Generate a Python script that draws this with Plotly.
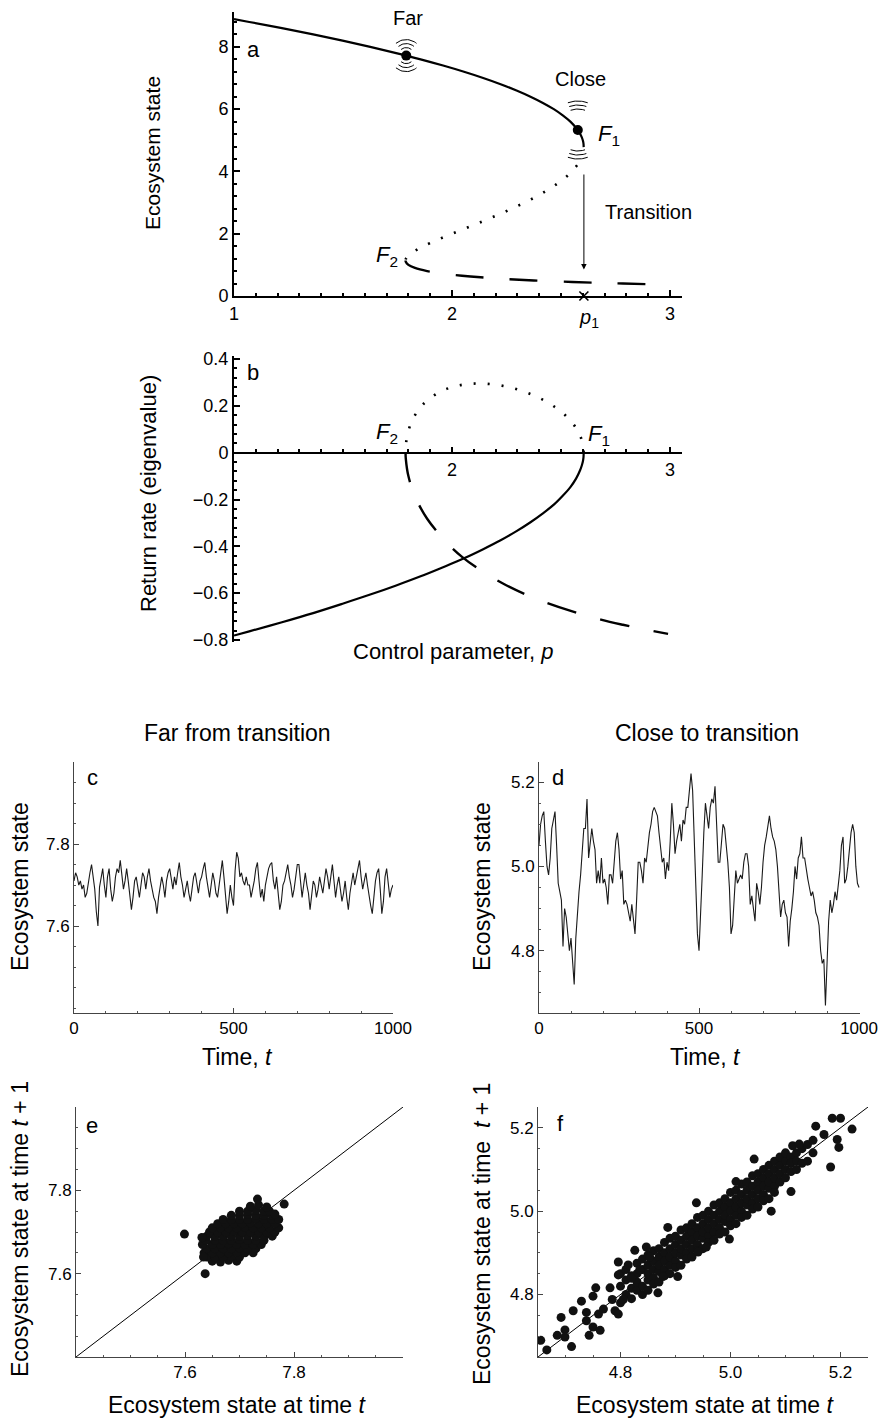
import numpy as np
import plotly.graph_objects as go

W, H = 886, 1419
FONT = "Liberation Sans, Arial, Helvetica, sans-serif"

p_upper = [1.000, 1.070, 1.220, 1.363, 1.498, 1.625, 1.744, 1.856, 1.959, 2.055, 2.143, 2.223,
           2.296, 2.360, 2.417, 2.467, 2.508, 2.543, 2.569, 2.588, 2.595, 2.600, 2.603, 2.604]
x_upper = [8.889, 8.80, 8.60, 8.40, 8.20, 8.00, 7.80, 7.60, 7.40, 7.20, 7.00, 6.80,
           6.60, 6.40, 6.20, 6.00, 5.80, 5.60, 5.40, 5.20, 5.10, 5.00, 4.90, 4.78]
lam_upper = [-0.781, -0.763, -0.724, -0.685, -0.645, -0.606, -0.567, -0.528, -0.489, -0.451, -0.412, -0.374,
             -0.335, -0.297, -0.259, -0.222, -0.184, -0.147, -0.111, -0.074, -0.056, -0.039, -0.021, 0.000]
p_mid = [2.604, 2.601, 2.591, 2.574, 2.550, 2.519, 2.482, 2.438, 2.389, 2.333, 2.273, 2.209,
         2.141, 2.071, 2.000, 1.932, 1.869, 1.842, 1.818, 1.800, 1.789, 1.787]
x_mid = [4.78, 4.60, 4.40, 4.20, 4.00, 3.80, 3.60, 3.40, 3.20, 3.00, 2.80, 2.60,
         2.40, 2.20, 2.00, 1.80, 1.60, 1.50, 1.40, 1.30, 1.20, 1.137]
lam_mid = [0.000, 0.031, 0.065, 0.098, 0.129, 0.160, 0.188, 0.215, 0.239, 0.260, 0.277, 0.289,
           0.295, 0.293, 0.280, 0.253, 0.208, 0.177, 0.139, 0.093, 0.039, 0.000]
p_low = [1.787, 1.788, 1.800, 1.830, 1.886, 1.980, 2.046, 2.131, 2.238, 2.375, 2.552, 2.683, 2.784, 2.897, 2.991]
x_low = [1.137, 1.10, 1.00, 0.90, 0.80, 0.70, 0.65, 0.60, 0.55, 0.50, 0.45, 0.42, 0.40, 0.38, 0.365]
lam_low = [0.000, -0.025, -0.100, -0.186, -0.282, -0.388, -0.445, -0.502, -0.561, -0.620, -0.678,
           -0.713, -0.735, -0.757, -0.774]

far_point = [1.79, 7.72]
close_point = [2.577, 5.33]
p1_value = 2.605
transition_arrow = [3.95, 0.85]

# ---------------- data: time series (panels c, d) ----------------
far_series = [
    7.71, 7.73, 7.72, 7.70, 7.71, 7.69, 7.70, 7.67, 7.68, 7.71,
    7.73, 7.75, 7.72, 7.69, 7.635, 7.60, 7.695, 7.72, 7.74, 7.70,
    7.67, 7.72, 7.74, 7.69, 7.66, 7.68, 7.72, 7.74, 7.73, 7.76,
    7.72, 7.69, 7.71, 7.74, 7.71, 7.68, 7.64, 7.67, 7.71, 7.72,
    7.69, 7.67, 7.70, 7.73, 7.72, 7.69, 7.72, 7.74, 7.71, 7.69,
    7.67, 7.66, 7.63, 7.67, 7.70, 7.72, 7.70, 7.67, 7.71, 7.73,
    7.74, 7.71, 7.69, 7.72, 7.70, 7.73, 7.755, 7.72, 7.70, 7.67,
    7.69, 7.71, 7.68, 7.66, 7.69, 7.72, 7.73, 7.70, 7.68, 7.71,
    7.72, 7.74, 7.755, 7.72, 7.69, 7.67, 7.70, 7.73, 7.71, 7.68,
    7.67, 7.70, 7.73, 7.76, 7.72, 7.68, 7.63, 7.66, 7.70, 7.67,
    7.65, 7.735, 7.78, 7.765, 7.72, 7.73, 7.71, 7.70, 7.72, 7.70,
    7.70, 7.67, 7.69, 7.71, 7.74, 7.755, 7.71, 7.67, 7.69, 7.66,
    7.70, 7.72, 7.74, 7.75, 7.755, 7.71, 7.69, 7.72, 7.68, 7.64,
    7.66, 7.70, 7.71, 7.73, 7.75, 7.72, 7.70, 7.67, 7.69, 7.72,
    7.75, 7.75, 7.71, 7.67, 7.70, 7.73, 7.70, 7.68, 7.64, 7.67,
    7.71, 7.70, 7.67, 7.69, 7.72, 7.70, 7.68, 7.71, 7.74, 7.72,
    7.69, 7.72, 7.75, 7.71, 7.67, 7.70, 7.72, 7.69, 7.66, 7.68,
    7.71, 7.67, 7.64, 7.68, 7.71, 7.73, 7.70, 7.72, 7.74, 7.76,
    7.72, 7.69, 7.71, 7.73, 7.70, 7.67, 7.65, 7.63, 7.67, 7.71,
    7.73, 7.74, 7.69, 7.63, 7.66, 7.72, 7.74, 7.71, 7.67, 7.69,
    7.70]

close_series = [
    5.05, 5.10, 5.12, 5.13, 5.06, 5.00, 4.98, 5.02, 5.09, 5.11,
    5.13, 5.05, 4.96, 4.94, 4.92, 4.81, 4.90, 4.88, 4.84, 4.80,
    4.83, 4.77, 4.72, 4.83, 4.90, 4.94, 4.98, 5.03, 5.09, 5.09,
    5.16, 5.02, 5.05, 5.09, 5.06, 5.04, 4.96, 4.99, 4.96, 5.02,
    4.96, 4.97, 4.95, 4.91, 4.98, 4.98, 4.96, 5.02, 5.06, 5.08,
    5.04, 4.97, 4.99, 4.91, 4.92, 4.91, 4.89, 4.87, 4.91, 4.87,
    4.84, 4.92, 5.01, 5.01, 4.99, 4.96, 5.02, 5.01, 5.05, 5.08,
    5.10, 5.13, 5.14, 5.13, 5.12, 5.08, 5.04, 5.01, 5.02, 4.97,
    5.01, 4.99, 5.06, 5.15, 5.10, 5.03, 5.06, 5.08, 5.10, 5.06,
    5.11, 5.10, 5.14, 5.14, 5.19, 5.22, 5.18, 5.05, 4.92, 4.84,
    4.80, 4.88, 4.98, 5.08, 5.15, 5.12, 5.09, 5.14, 5.16, 5.15,
    5.19, 5.10, 5.01, 5.01, 5.06, 5.10, 5.09, 5.05, 5.01, 4.95,
    4.84, 4.86, 4.94, 4.99, 4.96, 4.97, 4.98, 4.97, 5.01, 5.03,
    5.03, 5.00, 4.91, 4.93, 4.90, 4.87, 4.96, 4.94, 4.91, 4.95,
    5.01, 5.05, 5.07, 5.10, 5.12, 5.09, 5.07, 5.06, 5.04, 5.00,
    4.93, 4.88, 4.91, 4.92, 4.89, 4.88, 4.81, 4.87, 4.90, 4.94,
    5.00, 4.97, 5.02, 5.03, 5.07, 5.02, 5.02, 4.99, 4.97, 4.95,
    4.93, 4.94, 4.92, 4.89, 4.88, 4.86, 4.80, 4.77, 4.78, 4.67,
    4.77, 4.87, 4.92, 4.89, 4.91, 4.94, 4.92, 4.95, 4.99, 5.05,
    5.07, 4.96, 4.97, 5.00, 5.05, 5.08, 5.10, 5.08, 5.00, 4.96,
    4.95]

time_span = [0, 1000]

far_lag_x = [
    7.65, 7.665, 7.68, 7.695,
    7.64, 7.655, 7.67, 7.685, 7.70,
    7.635, 7.65, 7.665, 7.68, 7.695, 7.71, 7.725,
    7.64, 7.655, 7.67, 7.685, 7.70, 7.715, 7.73,
    7.632, 7.65, 7.665, 7.68, 7.695, 7.71, 7.725, 7.74,
    7.638, 7.655, 7.67, 7.685, 7.70, 7.715, 7.73, 7.745,
    7.64, 7.655, 7.67, 7.685, 7.70, 7.715, 7.73, 7.745, 7.76,
    7.645, 7.66, 7.675, 7.69, 7.705, 7.72, 7.735, 7.75, 7.765,
    7.65, 7.665, 7.68, 7.695, 7.71, 7.725, 7.74, 7.755, 7.772,
    7.66, 7.675, 7.69, 7.705, 7.72, 7.735, 7.75, 7.765,
    7.67, 7.685, 7.70, 7.715, 7.73, 7.745, 7.76, 7.772,
    7.685, 7.70, 7.715, 7.73, 7.745, 7.76,
    7.70, 7.715, 7.73, 7.745, 7.755,
    7.72, 7.735, 7.75,
    7.599, 7.637, 7.634, 7.631, 7.733, 7.782, 7.765]
far_lag_y = [
    7.63, 7.628, 7.632, 7.63,
    7.64, 7.64, 7.64, 7.642, 7.64,
    7.65, 7.65, 7.65, 7.65, 7.652, 7.65, 7.65,
    7.66, 7.66, 7.66, 7.66, 7.662, 7.66, 7.66,
    7.67, 7.67, 7.67, 7.672, 7.67, 7.67, 7.67, 7.67,
    7.68, 7.68, 7.68, 7.68, 7.682, 7.68, 7.68, 7.68,
    7.69, 7.69, 7.69, 7.69, 7.69, 7.692, 7.69, 7.69, 7.69,
    7.70, 7.70, 7.70, 7.702, 7.70, 7.70, 7.70, 7.70, 7.70,
    7.71, 7.71, 7.71, 7.71, 7.712, 7.71, 7.71, 7.71, 7.71,
    7.72, 7.72, 7.72, 7.72, 7.722, 7.72, 7.72, 7.72,
    7.73, 7.73, 7.73, 7.73, 7.732, 7.73, 7.73, 7.73,
    7.74, 7.74, 7.742, 7.74, 7.74, 7.74,
    7.75, 7.75, 7.752, 7.75, 7.75,
    7.762, 7.765, 7.76,
    7.695, 7.600, 7.640, 7.687, 7.779, 7.767, 7.743]

close_lag_x = [
    4.80, 4.80, 4.80, 4.81, 4.81, 4.81, 4.82, 4.82, 4.82,
    4.83, 4.83, 4.83, 4.83, 4.84, 4.84, 4.84, 4.84,
    4.85, 4.85, 4.85, 4.85, 4.85, 4.86, 4.86, 4.86, 4.86, 4.86,
    4.87, 4.87, 4.87, 4.87, 4.87, 4.88, 4.88, 4.88, 4.88, 4.88,
    4.89, 4.89, 4.89, 4.89, 4.89, 4.90, 4.90, 4.90, 4.90, 4.90,
    4.91, 4.91, 4.91, 4.91, 4.91, 4.92, 4.92, 4.92, 4.92, 4.92,
    4.93, 4.93, 4.93, 4.93, 4.93, 4.94, 4.94, 4.94, 4.94, 4.94,
    4.95, 4.95, 4.95, 4.95, 4.95, 4.96, 4.96, 4.96, 4.96, 4.96,
    4.97, 4.97, 4.97, 4.97, 4.97, 4.98, 4.98, 4.98, 4.98, 4.98,
    4.99, 4.99, 4.99, 4.99, 4.99, 5.00, 5.00, 5.00, 5.00, 5.00,
    5.01, 5.01, 5.01, 5.01, 5.01, 5.02, 5.02, 5.02, 5.02, 5.02,
    5.03, 5.03, 5.03, 5.03, 5.03, 5.04, 5.04, 5.04, 5.04, 5.04,
    5.05, 5.05, 5.05, 5.05, 5.05, 5.06, 5.06, 5.06, 5.06, 5.06,
    5.07, 5.07, 5.07, 5.07, 5.07, 5.08, 5.08, 5.08, 5.08, 5.08,
    5.09, 5.09, 5.09, 5.09, 5.10, 5.10, 5.10, 5.10,
    5.11, 5.11, 5.11, 5.12, 5.12, 5.12, 5.13, 5.13, 5.14, 5.14, 5.15, 5.15,
    4.655, 4.666, 4.685, 4.692, 4.699, 4.699, 4.711, 4.714, 4.729, 4.738, 4.738, 4.743,
    4.750, 4.750, 4.755, 4.760, 4.763, 4.769, 4.781, 4.785, 4.790, 4.796, 4.796, 4.796,
    4.805, 4.814, 4.820, 4.826, 4.835, 4.847, 4.853, 4.868, 4.877, 4.886, 4.904, 4.938,
    4.941, 4.956, 4.998, 5.010, 5.043, 5.074, 5.110, 5.113, 5.125, 5.155, 5.182, 5.185,
    5.200, 5.194, 5.197, 5.221, 5.170]
close_lag_y = [
    4.78, 4.82, 4.85, 4.80, 4.835, 4.86, 4.79, 4.845, 4.815,
    4.81, 4.85, 4.875, 4.83, 4.82, 4.86, 4.80, 4.885,
    4.835, 4.87, 4.85, 4.895, 4.81, 4.84, 4.88, 4.86, 4.905, 4.825,
    4.855, 4.89, 4.87, 4.91, 4.83, 4.86, 4.90, 4.88, 4.925, 4.845,
    4.87, 4.91, 4.89, 4.935, 4.85, 4.88, 4.92, 4.90, 4.94, 4.865,
    4.895, 4.93, 4.91, 4.955, 4.87, 4.90, 4.94, 4.92, 4.96, 4.885,
    4.91, 4.95, 4.93, 4.97, 4.89, 4.92, 4.96, 4.94, 4.985, 4.905,
    4.935, 4.97, 4.95, 4.99, 4.91, 4.94, 4.98, 4.96, 5.00, 4.925,
    4.95, 4.99, 4.97, 5.015, 4.93, 4.96, 5.00, 4.98, 5.02, 4.945,
    4.975, 5.01, 4.99, 5.03, 4.95, 4.98, 5.02, 5.00, 5.045, 4.965,
    4.99, 5.03, 5.01, 5.05, 4.97, 5.00, 5.04, 5.02, 5.065, 4.985,
    5.015, 5.05, 5.03, 5.07, 4.99, 5.02, 5.06, 5.04, 5.085, 5.005,
    5.03, 5.07, 5.05, 5.09, 5.01, 5.04, 5.08, 5.06, 5.10, 5.025,
    5.055, 5.09, 5.07, 5.11, 5.03, 5.06, 5.10, 5.08, 5.12, 5.045,
    5.07, 5.11, 5.09, 5.13, 5.08, 5.12, 5.10, 5.14,
    5.095, 5.13, 5.115, 5.10, 5.14, 5.12, 5.115, 5.15, 5.12, 5.16, 5.14, 5.17,
    4.690, 4.667, 4.702, 4.745, 4.715, 4.698, 4.675, 4.761, 4.784, 4.757, 4.737, 4.702,
    4.722, 4.796, 4.816, 4.753, 4.714, 4.765, 4.816, 4.788, 4.761, 4.753, 4.878, 4.847,
    4.788, 4.871, 4.839, 4.906, 4.859, 4.914, 4.890, 4.804, 4.843, 4.961, 4.843, 5.020,
    4.902, 4.914, 4.933, 5.071, 5.125, 5.000, 5.047, 5.157, 5.161, 5.204, 5.106, 5.223,
    5.223, 5.172, 5.153, 5.197, 5.184]

# axis ranges / ticks
a_xrange = [1.0, 3.055]
a_yrange = [0.0, 9.12]
b_yrange = [-0.8085, 0.4128]
c_yrange = [7.388, 8.0]
d_xrange = [0, 1003]
d_yrange = [4.6524, 5.2476]
e_range = [7.4, 8.0]
f_range = [4.65, 5.25]

a_xticks = [1, 2, 3]
a_yticks = [0, 2, 4, 6, 8]
b_xticks = [2, 3]
b_yticks = [-0.8, -0.6, -0.4, -0.2, 0, 0.2, 0.4]
b_yticktext = ["\u22120.8", "\u22120.6", "\u22120.4", "\u22120.2", "0", "0.2", "0.4"]
t_ticks = [0, 500, 1000]
far_ticks = [7.6, 7.8]
close_ticks = [4.8, 5.0, 5.2]
close_ticktext = ["4.8", "5.0", "5.2"]

# ---------------- layout geometry (pixels) ----------------
A_L, A_R, A_T, A_B = 234, 682, 12, 296
B_T, B_B, B_ZERO = 356, 642, 453
C_L, C_R, CD_T, CD_B = 74, 393, 762, 1013
D_L, D_R = 539, 860
E_L, E_R, EF_T, EF_B = 76, 403, 1107, 1357
F_L, F_R = 538, 868


def dx(l, r):
    return [l / W, r / W]


def dy(t, b):
    return [1 - b / H, 1 - t / H]


fig = go.Figure()

solid = dict(color="black", width=2.2, shape="spline")
dotted = dict(color="black", width=2.6, dash="2px,12px", shape="spline")
dashed = dict(color="black", width=2.4, dash="28px,26px", shape="spline")

# ---- panel a ----
fig.add_trace(go.Scatter(x=p_upper, y=x_upper, mode="lines", line=solid, xaxis="x", yaxis="y"))
mid_sel = [i for i, v in enumerate(x_mid) if v <= 4.2]
fig.add_trace(go.Scatter(x=[p_mid[i] for i in mid_sel], y=[x_mid[i] for i in mid_sel],
                         mode="lines", line=dotted, xaxis="x", yaxis="y"))
fig.add_trace(go.Scatter(x=p_low[:-1], y=x_low[:-1], mode="lines", line=dashed, xaxis="x", yaxis="y"))
fig.add_trace(go.Scatter(x=[far_point[0], close_point[0]], y=[far_point[1], close_point[1]],
                         mode="markers", marker=dict(color="black", size=10), xaxis="x", yaxis="y"))
fig.add_trace(go.Scatter(x=[p1_value], y=[0], mode="markers", cliponaxis=False,
                         marker=dict(symbol="x-thin", size=9, line=dict(width=1.6, color="black")),
                         xaxis="x", yaxis="y"))

# ripple icons (decorative arcs around the two points)
pxx = (A_R - A_L) / (a_xrange[1] - a_xrange[0])
pxy = (A_B - A_T) / (a_yrange[1] - a_yrange[0])


def add_arcs(center, radii, half_deg, offsets_up=True):
    th = np.radians(np.linspace(-half_deg, half_deg, 17))
    sgn = 1 if offsets_up else -1
    for r in radii:
        xs = center[0] + r * np.sin(th) / pxx
        ys = center[1] + sgn * r * np.cos(th) / pxy
        fig.add_trace(go.Scatter(x=xs, y=ys, mode="lines", line=dict(color="black", width=1),
                                 xaxis="x", yaxis="y"))


add_arcs(far_point, [8, 12, 16], 40, True)
add_arcs(far_point, [8, 12, 16], 40, False)
add_arcs(close_point, [21, 25, 29], 20, True)
add_arcs(close_point, [21, 25, 29], 20, False)

# ---- panel b ----
fig.add_trace(go.Scatter(x=p_upper, y=lam_upper, mode="lines", line=solid, xaxis="x2", yaxis="y2"))
fig.add_trace(go.Scatter(x=p_mid, y=lam_mid, mode="lines", line=dotted, xaxis="x2", yaxis="y2"))
fig.add_trace(go.Scatter(x=p_low, y=lam_low, mode="lines",
                         line=dict(color="black", width=2.4, dash="30px,25px", shape="spline"),
                         xaxis="x2", yaxis="y2"))

# ---- panels c, d (time series) ----
t_far = np.linspace(time_span[0], time_span[1], len(far_series))
t_close = np.linspace(time_span[0], time_span[1], len(close_series))
fig.add_trace(go.Scatter(x=t_far, y=far_series, mode="lines", line=dict(color="#1a1a1a", width=1.1),
                         xaxis="x3", yaxis="y3"))
fig.add_trace(go.Scatter(x=t_close, y=close_series, mode="lines", line=dict(color="#1a1a1a", width=1.1),
                         xaxis="x4", yaxis="y4"))

# ---- panels e, f (lag-1 plots) ----
fig.add_trace(go.Scatter(x=e_range, y=e_range, mode="lines", line=dict(color="black", width=1),
                         xaxis="x5", yaxis="y5"))
fig.add_trace(go.Scatter(x=far_lag_x, y=far_lag_y, mode="markers",
                         marker=dict(color="#111", size=9), xaxis="x5", yaxis="y5"))
fig.add_trace(go.Scatter(x=f_range, y=f_range, mode="lines", line=dict(color="black", width=1),
                         xaxis="x6", yaxis="y6"))
fig.add_trace(go.Scatter(x=close_lag_x, y=close_lag_y, mode="markers",
                         marker=dict(color="#111", size=9), xaxis="x6", yaxis="y6"))

# ---------------- axes ----------------
big_tick = dict(family=FONT, size=18, color="black")
small_tick = dict(family=FONT, size=17, color="black")


def ax_common(lw, color, tf):
    return dict(showline=True, linewidth=lw, linecolor=color, showgrid=False, zeroline=False,
                ticks="inside", tickcolor=color, tickfont=tf, automargin=False, fixedrange=True)


lay = dict(
    xaxis=dict(domain=dx(A_L, A_R), range=a_xrange, anchor="y", tickvals=a_xticks, ticklen=6, tickwidth=1.5,
               minor=dict(dtick=0.1, tick0=1, ticklen=3, ticks="inside", tickcolor="black"),
               **ax_common(2, "black", big_tick)),
    yaxis=dict(domain=dy(A_T, A_B), range=a_yrange, anchor="x", tickvals=a_yticks, ticklen=6, tickwidth=1.5,
               minor=dict(dtick=0.4, tick0=0, ticklen=3, ticks="inside", tickcolor="black"),
               **ax_common(2, "black", big_tick)),
    xaxis2=dict(domain=dx(A_L, A_R), range=a_xrange, anchor="free", position=1 - B_ZERO / H,
                tickvals=b_xticks, ticklen=5, tickwidth=1.5,
                minor=dict(dtick=0.1, tick0=1, ticklen=3, ticks="inside", tickcolor="black"),
                **ax_common(2, "black", big_tick)),
    yaxis2=dict(domain=dy(B_T, B_B), range=b_yrange, anchor="x2", tickvals=b_yticks, ticktext=b_yticktext,
                ticklen=6, tickwidth=1.5,
                minor=dict(dtick=0.04, tick0=0, ticklen=3, ticks="inside", tickcolor="black"),
                **ax_common(2, "black", big_tick)),
    xaxis3=dict(domain=dx(C_L, C_R), range=time_span, anchor="y3", tickvals=t_ticks, ticklen=5,
                minor=dict(dtick=100, ticklen=2, ticks="inside", tickcolor="#555"),
                **ax_common(1, "#444", small_tick)),
    yaxis3=dict(domain=dy(CD_T, CD_B), range=c_yrange, anchor="x3", tickvals=far_ticks, ticklen=5,
                minor=dict(dtick=0.05, ticklen=2, ticks="inside", tickcolor="#555"),
                **ax_common(1, "#444", small_tick)),
    xaxis4=dict(domain=dx(D_L, D_R), range=d_xrange, anchor="y4", tickvals=t_ticks, ticklen=5,
                minor=dict(dtick=100, ticklen=2, ticks="inside", tickcolor="#555"),
                **ax_common(1, "#444", small_tick)),
    yaxis4=dict(domain=dy(CD_T, CD_B), range=d_yrange, anchor="x4", tickvals=close_ticks,
                ticktext=close_ticktext, ticklen=5,
                minor=dict(dtick=0.05, ticklen=2, ticks="inside", tickcolor="#555"),
                **ax_common(1, "#444", small_tick)),
    xaxis5=dict(domain=dx(E_L, E_R), range=e_range, anchor="y5", tickvals=far_ticks, ticklen=5,
                minor=dict(dtick=0.05, ticklen=2, ticks="inside", tickcolor="#555"),
                **ax_common(1, "#444", small_tick)),
    yaxis5=dict(domain=dy(EF_T, EF_B), range=e_range, anchor="x5", tickvals=far_ticks, ticklen=5,
                minor=dict(dtick=0.05, ticklen=2, ticks="inside", tickcolor="#555"),
                **ax_common(1, "#444", small_tick)),
    xaxis6=dict(domain=dx(F_L, F_R), range=f_range, anchor="y6", tickvals=close_ticks,
                ticktext=close_ticktext, ticklen=5,
                minor=dict(dtick=0.05, ticklen=2, ticks="inside", tickcolor="#555"),
                **ax_common(1, "#444", small_tick)),
    yaxis6=dict(domain=dy(EF_T, EF_B), range=f_range, anchor="x6", tickvals=close_ticks,
                ticktext=close_ticktext, ticklen=5,
                minor=dict(dtick=0.05, ticklen=2, ticks="inside", tickcolor="#555"),
                **ax_common(1, "#444", small_tick)),
)


def note(text, px, py, size, angle=0, xanchor="center", yanchor="middle"):
    return dict(text=text, x=px / W, y=1 - py / H, xref="paper", yref="paper", showarrow=False,
                textangle=angle, xanchor=xanchor, yanchor=yanchor,
                font=dict(family=FONT, size=size, color="black"))


annotations = [
    note("a", 253, 50, 22), note("b", 253, 373, 22), note("c", 92, 778, 22),
    note("d", 558, 778, 22), note("e", 92, 1125, 22), note("f", 560, 1123, 22),
    note("Far", 408, 18, 20), note("Close", 580, 79, 20),
    note("<i>F</i><sub>1</sub>", 609, 135, 22), note("Transition", 648, 212, 20),
    note("<i>F</i><sub>2</sub>", 387, 256, 22), note("<i>p</i><sub>1</sub>", 589, 318, 20),
    note("<i>F</i><sub>2</sub>", 387, 433, 22), note("<i>F</i><sub>1</sub>", 599, 435, 22),
    note("Ecosystem state", 152, 153, 21, angle=-90),
    note("Return rate (eigenvalue)", 148, 494, 22, angle=-90),
    note("Control parameter, <i>p</i>", 453, 651, 22),
    note("Far from transition", 237, 733, 23), note("Close to transition", 707, 733, 23),
    note("Ecosystem state", 20, 887, 23, angle=-90), note("Ecosystem state", 482, 887, 23, angle=-90),
    note("Time, <i>t</i>", 237, 1057, 23), note("Time, <i>t</i>", 705, 1057, 23),
    note("Ecosystem state at time <i>t</i> + 1", 20, 1229, 23, angle=-90),
    note("Ecosystem state at time  <i>t</i> + 1", 482, 1234, 23, angle=-90),
    note("Ecosystem state at time <i>t</i>", 237, 1405, 23),
    note("Ecosystem state at time <i>t</i>", 705, 1405, 23),
    dict(x=p1_value, y=transition_arrow[1], ax=p1_value, ay=transition_arrow[0], xref="x", yref="y",
         axref="x", ayref="y", showarrow=True, arrowhead=2, arrowsize=1.1, arrowwidth=1,
         arrowcolor="black", text=""),
]

fig.update_layout(
    width=W, height=H, margin=dict(l=0, r=0, t=0, b=0),
    paper_bgcolor="white", plot_bgcolor="white", showlegend=False,
    font=dict(family=FONT, color="black"), annotations=annotations, **lay,
)

fig.write_html("out.html")
